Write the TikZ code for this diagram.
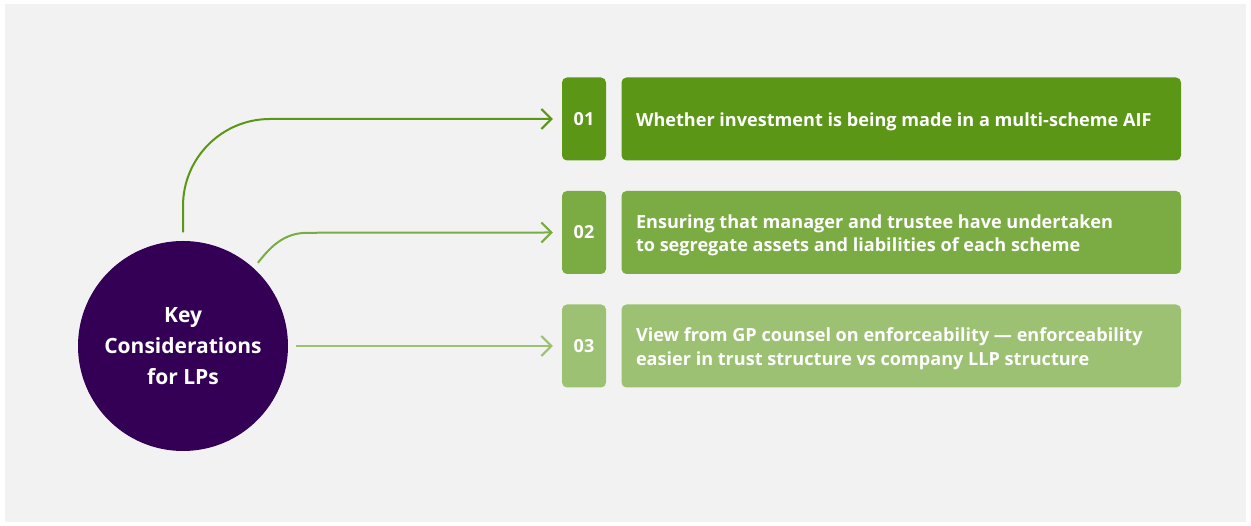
\documentclass[tikz,border=0pt]{standalone}
\usepackage{fontspec}
\setmainfont{Open Sans}
\usetikzlibrary{arrows.meta,calc}
\definecolor{bgpanel}{HTML}{F2F2F2}
\definecolor{purp}{HTML}{330055}
\definecolor{gA}{HTML}{5B9616}
\definecolor{gB}{HTML}{7BAB43}
\definecolor{gC}{HTML}{9CC172}
\tikzset{
  x=1pt,y=1pt,
  hub/.style={circle,fill=purp,minimum size=210,inner sep=0,text=white,align=center,
    font=\fontsize{21}{31}\selectfont\bfseries},
  numbox/.style={rectangle,rounded corners=5,minimum width=44,minimum height=83,inner sep=0,
    text=white,font=\fontsize{18}{23}\selectfont\bfseries},
  txtbox/.style={rectangle,rounded corners=5,minimum width=559.5,minimum height=83,inner sep=0},
  txt/.style={anchor=west,align=left,text=white,inner sep=0,
    font=\fontsize{18.1}{23.5}\selectfont\bfseries},
  conn/.style={line width=2,-{Straight Barb[length=10,width=20,line width=2]}},
}
\begin{document}
\begin{tikzpicture}
\useasboundingbox (0,0) rectangle (1251,526);
\fill[white] (0,0) rectangle (1251,526);
\fill[bgpanel] (5,4) rectangle (1246,522);
% hub
\node[hub] (k) at (183,180) {Key\\Considerations\\for LPs};
% rows
\node[numbox,fill=gA] (n1) at (584,407) {01};
\node[numbox,fill=gB] (n2) at (584,293.5) {02};
\node[numbox,fill=gC] (n3) at (584,180) {03};
\node[txtbox,fill=gA] (t1) at (901.25,407) {};
\node[txtbox,fill=gB] (t2) at (901.25,293.5) {};
\node[txtbox,fill=gC] (t3) at (901.25,180) {};
\node[txt] (l1) at ([xshift=14.5,yshift=-2.5]t1.west) {Whether investment is being made in a multi-scheme AIF};
\node[txt] (l2) at ([xshift=14.5,yshift=-3]t2.west) {Ensuring that manager and trustee have undertaken\\to segregate assets and liabilities of each scheme};
\node[txt] (l3) at ([xshift=14.5,yshift=-3]t3.west) {View from GP counsel on enforceability — enforceability\\easier in trust structure vs company LLP structure};
% connectors
\coordinate (s1) at ([yshift=8.5]k.north);
\coordinate (s2) at ($(k.center)+(48:112)$);
\draw[conn,gA,rounded corners=87] (s1) |- ([xshift=-9]n1.west);
\draw[conn,gB] (s2) to[out=52,in=180] ($(s2)+(50,30)$) -- ([xshift=-9]n2.west);
\draw[conn,gC] ([xshift=8]k.east) -- ([xshift=-9]n3.west);
\end{tikzpicture}
\end{document}
